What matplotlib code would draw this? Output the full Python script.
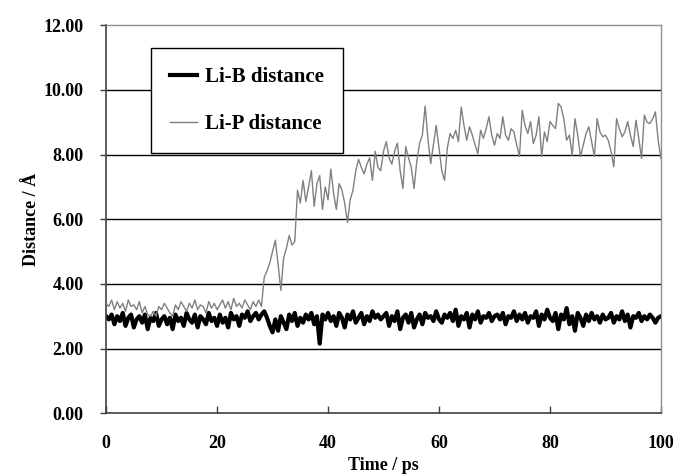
"""
Li-B / Li-P 距离随时间变化曲线
"""

import matplotlib
matplotlib.use("Agg")
import matplotlib.pyplot as plt
import numpy as np

# 时间步长 0.5 ps，0-100 ps
timeStep = 0.5

# Li-B 距离 (Å)
liB = [
    3.0,
    2.9, 3.05, 2.75, 3.0, 2.85, 3.1, 2.7, 2.95, 3.05, 2.65, 2.9, 3.0, 2.8, 3.05, 2.6, 2.95, 2.85, 3.1, 2.7, 2.9,
    3.0, 2.75, 2.95, 2.6, 3.05, 2.85, 2.95, 2.7, 3.1, 2.9, 2.8, 3.05, 2.65, 3.0, 2.9, 2.75, 3.1, 2.85, 2.95, 2.7,
    3.05, 2.8, 2.95, 2.65, 3.1, 2.9, 3.0, 2.7, 3.05, 2.95, 3.15, 2.85, 3.0, 3.1, 2.9, 3.05, 3.15, 2.95, 2.7, 2.5,
    2.9, 2.55, 3.0, 2.8, 2.6, 3.05, 2.85, 3.1, 2.7, 2.95, 2.8, 3.05, 2.9, 3.1, 2.75, 3.0, 2.15, 3.05, 2.9, 3.1,
    2.85, 3.0, 2.7, 3.1, 2.95, 2.65, 3.05, 2.9, 3.15, 2.8, 2.95, 3.1, 2.75, 3.0, 2.85, 3.15, 2.95, 3.05, 2.9, 3.0,
    3.1, 2.7, 3.0, 2.85, 3.15, 2.6, 2.95, 3.05, 2.8, 3.1, 2.65, 2.9, 3.05, 2.75, 3.1, 2.95, 3.0, 2.85, 3.15, 2.9,
    2.8, 3.05, 2.95, 3.1, 2.85, 3.2, 2.7, 3.0, 2.9, 3.1, 2.65, 3.05, 2.9, 3.15, 2.8, 3.0, 2.95, 3.1, 2.85, 3.0,
    3.05, 2.9, 3.1, 2.75, 3.0, 2.95, 3.15, 2.85, 3.05, 2.9, 3.1, 2.8, 3.0, 2.95, 3.15, 2.7, 3.05, 2.9, 3.2, 2.95,
    2.85, 3.1, 2.6, 3.05, 2.9, 3.25, 2.75, 3.0, 2.55, 3.1, 2.95, 2.7, 3.05, 2.85, 3.1, 2.9, 3.0, 2.8, 3.05, 2.9,
    2.95, 3.1, 2.8, 3.0, 2.9, 3.15, 2.85, 3.05, 2.65, 3.0, 2.95, 3.1, 2.85, 3.0, 2.9, 3.05, 2.95, 2.8, 2.95, 3.0,
]

# Li-P 距离 (Å)
liP = [
    3.4,
    3.3, 3.5, 3.2, 3.45, 3.25, 3.4, 3.15, 3.5, 3.3, 3.35, 3.2, 3.45, 3.1, 3.3, 3.05, 3.0, 3.15, 3.0, 3.3, 3.2,
    3.4, 3.25, 3.1, 3.0, 3.35, 3.2, 3.45, 3.3, 3.15, 3.4, 3.25, 3.5, 3.2, 3.35, 3.3, 3.1, 3.45, 3.25, 3.4, 3.2,
    3.35, 3.5, 3.25, 3.45, 3.2, 3.55, 3.3, 3.4, 3.25, 3.5, 3.35, 3.2, 3.45, 3.3, 3.5, 3.3, 4.2, 4.4, 4.65, 5.0,
    5.35, 4.6, 3.8, 4.8, 5.1, 5.5, 5.2, 5.3, 6.9, 6.5, 7.2, 6.55, 7.0, 7.5, 6.4, 7.1, 7.35, 6.3, 7.0, 6.6,
    7.55, 6.8, 6.3, 7.1, 6.9, 6.5, 5.9, 6.6, 6.9, 7.5, 7.85, 7.6, 7.4, 7.7, 7.9, 7.2, 8.1, 7.6, 7.5, 8.1,
    8.4, 7.9, 7.7, 8.1, 8.35, 7.5, 6.95, 8.25, 7.9, 7.6, 6.95, 7.8, 8.35, 8.6, 9.5, 8.5, 7.72, 8.3, 8.9, 8.2,
    7.5, 7.2, 8.2, 8.65, 8.5, 8.75, 8.4, 9.47, 8.9, 8.44, 8.86, 8.6, 8.3, 8.03, 8.75, 8.5, 8.8, 9.17, 8.6, 8.29,
    8.65, 8.5, 9.17, 8.6, 8.44, 8.8, 8.7, 8.3, 7.94, 9.37, 8.9, 8.65, 9.02, 8.34, 8.6, 9.17, 7.94, 8.7, 8.4, 9.02,
    8.9, 8.8, 9.58, 9.47, 9.1, 8.44, 8.6, 7.98, 9.11, 8.6, 7.94, 8.3, 8.65, 8.86, 8.4, 7.94, 9.11, 8.7, 8.55, 8.6,
    8.44, 8.1, 7.62, 9.11, 8.8, 8.55, 8.7, 9.02, 8.6, 8.25, 9.06, 8.5, 7.88, 9.22, 9.0, 8.96, 9.1, 9.32, 8.44, 7.88,
]

yTicks = [0, 2, 4, 6, 8, 10, 12]
xTicks = [0, 20, 40, 60, 80, 100]

timePs = np.arange(len(liB)) * timeStep

plt.rcParams["font.family"] = ["Liberation Serif", "DejaVu Serif"]
plt.rcParams["font.weight"] = "bold"

fig = plt.figure(figsize=(6.8, 4.76), dpi=100)
ax = fig.add_axes([0.156, 0.132, 0.816, 0.815])

# 网格线（仅水平）
for yv in yTicks[1:-1]:
    ax.axhline(yv, color="black", lw=1.0, zorder=1)

ax.plot(timePs, liP, color="#808080", lw=1.0, label="Li-P distance", zorder=3)
ax.plot(timePs, liB, color="black", lw=3.0, label="Li-B distance", zorder=2)

ax.set_xlim(0, 100)
ax.set_ylim(0, 12)
ax.set_xticks(xTicks)
ax.set_yticks(yTicks)
ax.set_yticklabels([f"{v:.2f}" for v in yTicks])
ax.tick_params(axis="x", direction="in", length=5, width=1, colors="#404040",
               labelcolor="black", labelsize=13, pad=16)
ax.tick_params(axis="y", direction="out", length=4, width=1, colors="#404040",
               labelcolor="black", labelsize=13, pad=12)

for side in ("left", "bottom"):
    ax.spines[side].set_color("#404040")
    ax.spines[side].set_linewidth(1.2)
for side in ("top", "right"):
    ax.spines[side].set_color("#909090")
    ax.spines[side].set_linewidth(1.0)

ax.set_xlabel("Time / ps", fontsize=13, fontweight="bold", labelpad=3)
ax.set_ylabel("Distance / Å", fontsize=13, fontweight="bold", labelpad=3)

# 图例：Li-B 在上
handles, labels = ax.get_legend_handles_labels()
leg = ax.legend(handles[::-1], labels[::-1], loc="upper left",
                bbox_to_anchor=(0.081, 0.941), fancybox=False, shadow=False,
                framealpha=1, edgecolor="black", fontsize=15,
                handlelength=1.3, handletextpad=0.4, labelspacing=1.3,
                borderpad=0.9, borderaxespad=0)
leg.get_frame().set_linewidth(1.0)
leg.set_zorder(5)

plt.savefig("out.png", dpi=100)
plt.close()
